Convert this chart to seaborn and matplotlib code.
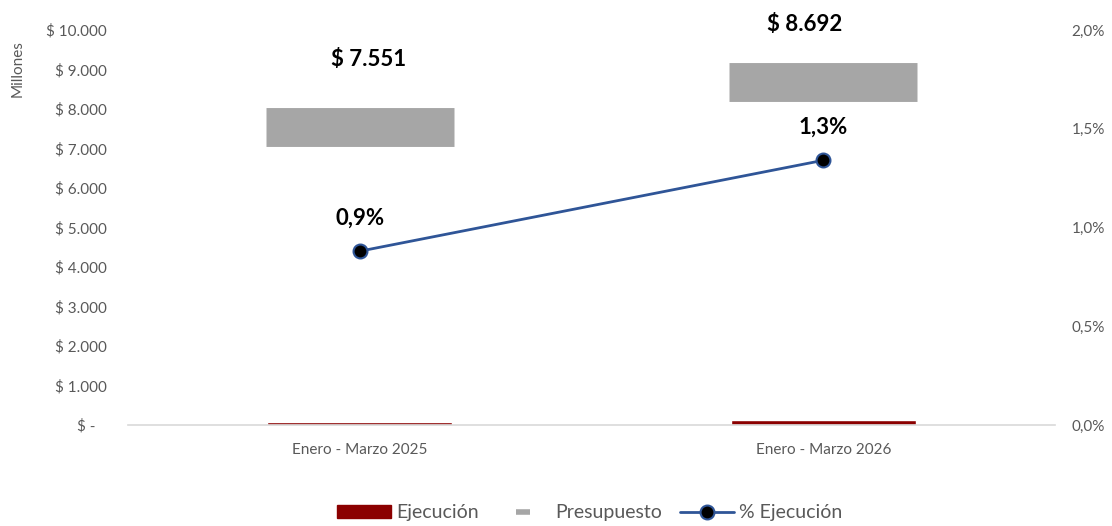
import matplotlib
matplotlib.use("Agg")
import matplotlib.pyplot as plt
import seaborn as sns
import pandas as pd
from matplotlib.lines import Line2D
from matplotlib.patches import Patch
from matplotlib.ticker import FuncFormatter, MultipleLocator

# data (millones de pesos)
periodos = ["Enero - Marzo 2025", "Enero - Marzo 2026"]
ejecucion = [66, 117]
presupuesto = [7551, 8692]
pct_ejecucion = [0.0088, 0.0134]
etiquetas_pres = ["$ 7.551", "$ 8.692"]
etiquetas_pct = ["0,9%", "1,3%"]

rojo = "#8B0000"
gris = "#A6A6A6"
azul = "#2F5597"
texto = "#595959"

sns.set_style("white")
plt.rcParams["font.family"] = ["Lato", "DejaVu Sans"]

df = pd.DataFrame({"periodo": periodos, "ejecucion": ejecucion,
                   "presupuesto": presupuesto, "pct": pct_ejecucion})
df["x"] = range(len(df))

fig = plt.figure(figsize=(11.12, 5.26), dpi=100)
ax = fig.add_axes([0.1151, 0.192, 0.8336, 0.751])

sns.barplot(data=df, x="x", y="ejecucion", color=rojo, width=0.4,
            saturation=1, ax=ax, native_scale=True)
# presupuesto drawn as a wide dash marker
ax.plot(df["x"], df["presupuesto"], ls="none", marker="_", ms=135,
        mew=28, color=gris, zorder=3)

ax.set_xlim(-0.5, 1.5)
ax.set_ylim(0, 10000)
ax.yaxis.set_major_locator(MultipleLocator(1000))
ax.yaxis.set_major_formatter(FuncFormatter(
    lambda v, p: "$ -   " if v == 0 else "$ " + f"{v:,.0f}".replace(",", ".")))
ax.set_xticks(df["x"])
ax.set_xticklabels(periodos)
ax.set_xlabel("")
ax.set_ylabel("")
ax.tick_params(axis="y", length=0, labelsize=11, labelcolor=texto, pad=15)
ax.tick_params(axis="x", length=0, labelsize=11, labelcolor=texto, pad=13)
ax.set_xticks([-0.5, 0.5, 1.5], minor=True)
ax.tick_params(axis="x", which="minor", length=5, color="#D9D9D9", width=1)
for s in ["top", "right", "left"]:
    ax.spines[s].set_visible(False)
ax.spines["bottom"].set_color("#D9D9D9")
ax.spines["bottom"].set_linewidth(1.2)

offsets = [1430, 1170]
for x, v, t, o in zip(df["x"], df["presupuesto"], etiquetas_pres, offsets):
    ax.text(x + (0.02 if x == 0 else -0.04), v + o, t,
            ha="center", va="bottom", fontsize=16, fontweight="bold", color="black")

fig.text(0.016, 0.87, "Millones", rotation=90, ha="center", va="center",
         fontsize=11, color=texto)

ax2 = ax.twinx()
sns.lineplot(data=df, x="x", y="pct", ax=ax2, color=azul, lw=2, marker="o",
             markersize=10, markerfacecolor="black", markeredgecolor=azul,
             markeredgewidth=1.5)
ax2.set_ylim(0, 0.02)
ax2.yaxis.set_major_locator(MultipleLocator(0.005))
ax2.yaxis.set_major_formatter(FuncFormatter(
    lambda v, p: f"{v*100:.1f}%".replace(".", ",")))
ax2.tick_params(axis="y", length=0, labelsize=11, labelcolor=texto, pad=12)
ax2.set_ylabel("")
ax2.set_xlabel("")
for s in ax2.spines.values():
    s.set_visible(False)

for x, v, t in zip(df["x"], df["pct"], etiquetas_pct):
    ax2.text(x, v + 0.00115, t, ha="center", va="bottom", fontsize=16,
             fontweight="bold", color="black")

handles = [
    Patch(facecolor=rojo, edgecolor=rojo),
    Line2D([], [], ls="none", marker="_", ms=10, mew=4, color=gris),
    Line2D([], [], color=azul, lw=2, marker="o", ms=10,
           markerfacecolor="black", markeredgecolor=azul, markeredgewidth=1.5),
]
fig.legend(handles, ["Ejecución", "Presupuesto", "% Ejecución"],
           loc="center", bbox_to_anchor=(0.53, 0.025), ncol=3, frameon=False,
           fontsize=14, labelcolor=texto, handlelength=2.8, columnspacing=0.9,
           handletextpad=0.25, handleheight=0.6)

fig.savefig("out.png", dpi=100)
